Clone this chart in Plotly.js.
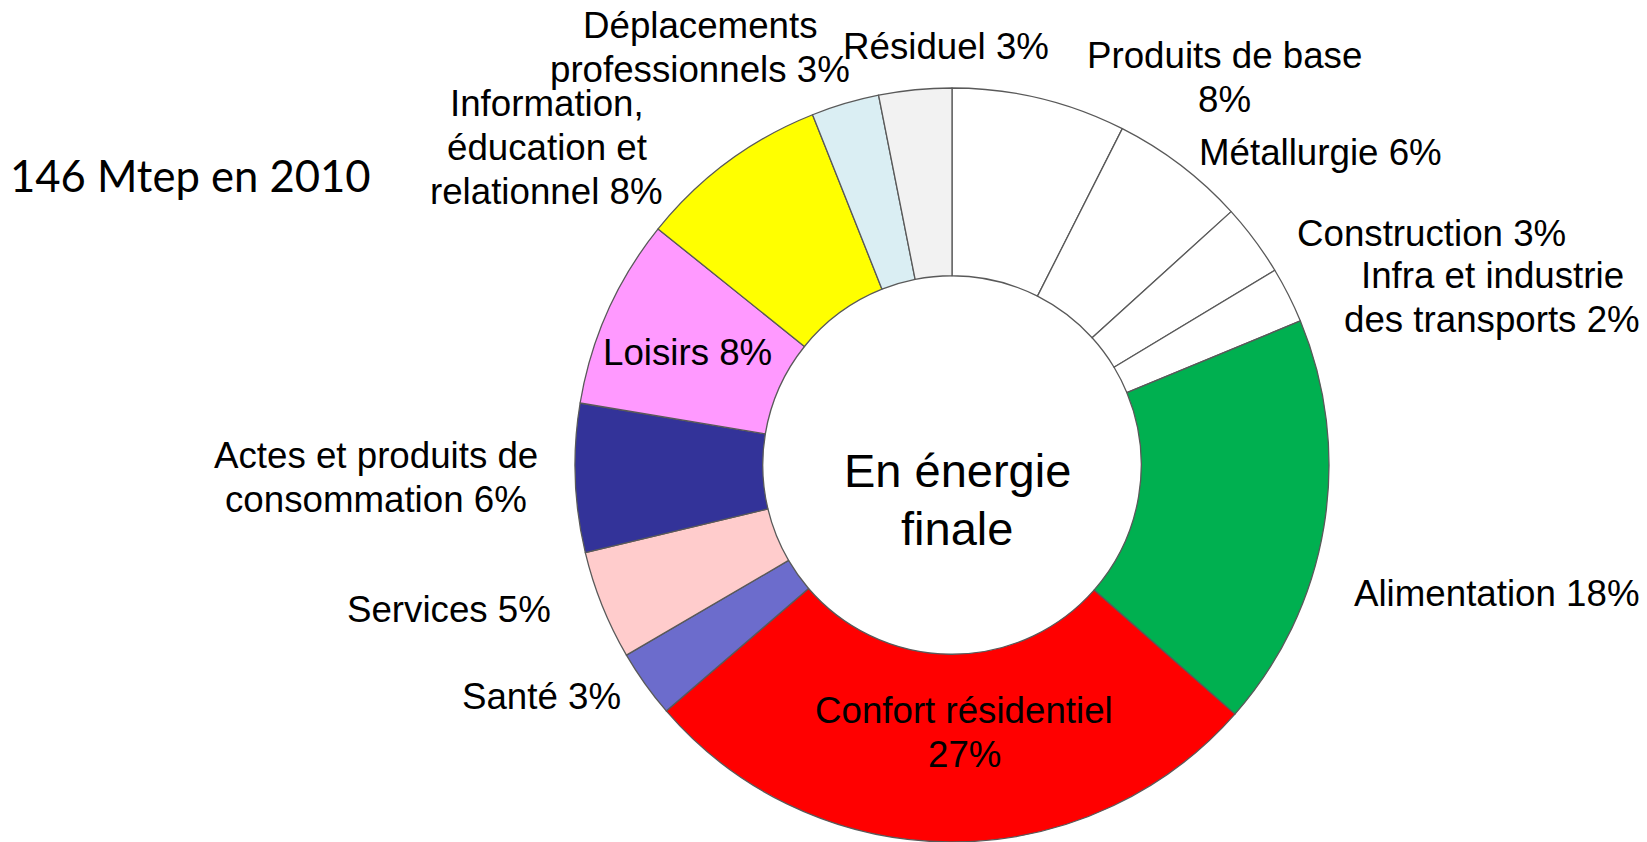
<!DOCTYPE html>
<html>
<head>
<meta charset="utf-8">
<script src="https://cdn.plot.ly/plotly-3.0.1.min.js"></script>
<style>
  html, body { margin: 0; padding: 0; background: #ffffff; overflow: hidden; }
  #chart { width: 1647px; height: 842px; }
</style>
</head>
<body>
<div id="chart"></div>
<script>
// ---- Data (clockwise from 12 o'clock) ----
const categories = [
  "Produits de base", "Métallurgie", "Construction", "Infra et industrie des transports",
  "Alimentation", "Confort résidentiel", "Santé", "Services",
  "Actes et produits de consommation", "Loisirs", "Information, éducation et relationnel",
  "Déplacements professionnels", "Résiduel"
];
const shares = [7.46, 5.81, 3.09, 2.40, 17.73, 27.20, 2.90, 4.68, 6.36, 8.14, 8.20, 2.91, 3.12];
const shareLabels = ["8%", "6%", "3%", "2%", "18%", "27%", "3%", "5%", "6%", "8%", "8%", "3%", "3%"];
const sliceColors = [
  "#FFFFFF", "#FFFFFF", "#FFFFFF", "#FFFFFF",
  "#00B050", "#FF0000", "#6C6CCC", "#FFCCCC",
  "#333399", "#FF99FF", "#FFFF00", "#DAEEF3", "#F2F2F2"
];
const totalNote = "146 Mtep en 2010";
const centerLines = ["En énergie", "finale"];

// Line breaks of each slice label, as written on the chart
const labelLines = [
  ["Produits de base", shareLabels[0]],
  ["Métallurgie " + shareLabels[1]],
  ["Construction " + shareLabels[2]],
  ["Infra et industrie", "des transports " + shareLabels[3]],
  ["Alimentation " + shareLabels[4]],
  ["Confort résidentiel", shareLabels[5]],
  ["Santé " + shareLabels[6]],
  ["Services " + shareLabels[7]],
  ["Actes et produits de", "consommation " + shareLabels[8]],
  ["Loisirs " + shareLabels[9]],
  ["Information,", "éducation et", "relationnel " + shareLabels[10]],
  ["Déplacements", "professionnels " + shareLabels[11]],
  ["Résiduel " + shareLabels[12]]
];

// ---- Layout: label anchor positions in pixels (centre x, first baseline y) ----
const W = 1647, H = 842;
const labelPos = [
  [1224, 68.3], [1320, 165.7], [1431, 246], [1492, 288.3],
  [1497, 606], [964, 723.3], [541.5, 709.3], [448.7, 622.3],
  [376, 468.3], [687.2, 365], [546.5, 116.7], [700.3, 38.3], [946.2, 59.3]
];
const lineGap = 43.6;
const labelSize = 36.7;
const arial = "Liberation Sans, Arial, sans-serif";

function px2x(px) { return px / W; }
function px2y(py) { return (H - py) / H; }

const annotations = [];
labelLines.forEach((lines, i) => {
  lines.forEach((t, k) => {
    const base = labelPos[i][1] + k * lineGap;
    annotations.push({
      text: t, showarrow: false, xref: "paper", yref: "paper",
      x: px2x(labelPos[i][0]), y: px2y(base - 0.3465 * labelSize),
      xanchor: "center", yanchor: "middle",
      font: { family: arial, size: labelSize, color: "#000000" }
    });
  });
});
// centre text
const centerSize = 47;
[[957, 486.7], [956.5, 545]].forEach((p, k) => {
  annotations.push({
    text: centerLines[k], showarrow: false, xref: "paper", yref: "paper",
    x: px2x(p[0]), y: px2y(p[1] - 0.3465 * centerSize),
    xanchor: "center", yanchor: "middle",
    font: { family: arial, size: centerSize, color: "#000000" }
  });
});
// total note
const noteSize = 43.6;
annotations.push({
  text: totalNote, showarrow: false, xref: "paper", yref: "paper",
  x: px2x(190.3), y: px2y(192 - 0.387 * noteSize),
  xanchor: "center", yanchor: "middle",
  font: { family: "Lato, Carlito, sans-serif", size: noteSize, color: "#000000" }
});

const trace = {
  type: "pie",
  labels: categories,
  values: shares,
  sort: false,
  direction: "clockwise",
  rotation: 0,
  hole: 0.502,
  textinfo: "none",
  hoverinfo: "label+percent",
  marker: { colors: sliceColors, line: { color: "#595959", width: 1.3 } },
  domain: { x: [(952 - 400) / W, (952 + 400) / W], y: [0, (H - 88) / H] },
  showlegend: false
};

const layout = {
  width: W, height: H,
  margin: { l: 0, r: 0, t: 0, b: 0 },
  paper_bgcolor: "#ffffff",
  plot_bgcolor: "#ffffff",
  showlegend: false,
  annotations: annotations
};

Plotly.newPlot("chart", [trace], layout, { displayModeBar: false, staticPlot: true });
</script>
</body>
</html>
